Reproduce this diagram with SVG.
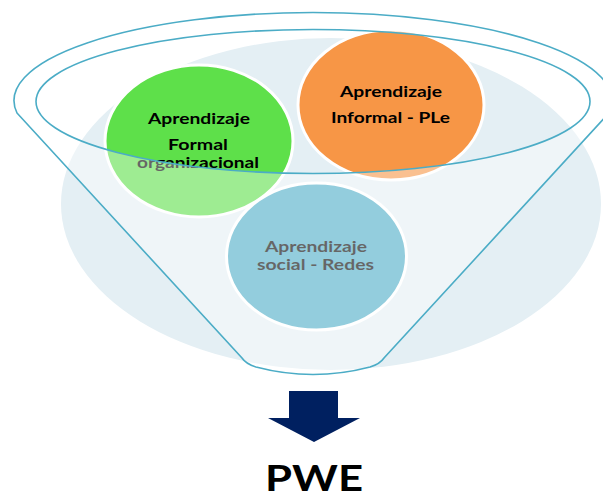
<svg xmlns="http://www.w3.org/2000/svg" width="603" height="499" viewBox="0 0 603 499">
  <style>
    .lbl { font-family: Lato, "Liberation Sans", sans-serif; font-weight: bold; font-size: 15px; fill: #000; text-anchor: middle; }
    .circ { stroke: #ffffff; stroke-width: 3; }
    .rim { fill: none; stroke: #4bacc6; stroke-width: 1.6; }
  </style>
  <rect width="603" height="499" fill="#ffffff"/>
  <g id="background">
    <ellipse cx="331" cy="204" rx="270" ry="166" fill="#e4eff4"/>
  </g>
  <g id="node-formal">
    <ellipse class="circ" cx="199" cy="141" rx="94" ry="76" fill="#5ee04a"/>
    <text class="lbl" x="199" y="124" textLength="102" lengthAdjust="spacingAndGlyphs">Aprendizaje</text>
    <text class="lbl" x="198" y="150" textLength="60" lengthAdjust="spacingAndGlyphs">Formal</text>
    <text class="lbl" x="198" y="168" textLength="122" lengthAdjust="spacingAndGlyphs">organizacional</text>
  </g>
  <g id="node-informal">
    <ellipse class="circ" cx="391" cy="105" rx="93" ry="75" fill="#f79646"/>
    <text class="lbl" x="391" y="97" textLength="102" lengthAdjust="spacingAndGlyphs">Aprendizaje</text>
    <text class="lbl" x="390.5" y="123" textLength="119" lengthAdjust="spacingAndGlyphs">Informal - PLe</text>
  </g>
  <g id="node-social">
    <ellipse class="circ" cx="316.5" cy="256.5" rx="90" ry="73.5" fill="#4bacc6"/>
    <text class="lbl" x="316" y="252" textLength="102" lengthAdjust="spacingAndGlyphs">Aprendizaje</text>
    <text class="lbl" x="315.5" y="270" textLength="117" lengthAdjust="spacingAndGlyphs">social - Redes</text>
  </g>
  <g id="funnel">
    <path fill="#ffffff" fill-opacity="0.4" fill-rule="evenodd" d="M17,113 L242,358 Q246,364 256,367 Q313,382 370,367 Q380,364 384,358 L609,113 A299,88 0 1,0 17,113 Z M36,101.5 A277,72 0 1,0 590,101.5 A277,72 0 1,0 36,101.5 Z"/>
    <path class="rim" d="M17,113 L242,358 Q246,364 256,367 Q313,382 370,367 Q380,364 384,358 L609,113 A299,88 0 1,0 17,113 Z"/>
    <ellipse class="rim" cx="313" cy="101.5" rx="277" ry="72"/>
  </g>
  <g id="connectors">
    <path id="arrow-down" d="M289,391 L338,391 L338,418 L360,418 L314,442 L268,418 L289,418 Z" fill="#002060"/>
  </g>
  <g id="node-pwe">
    <text x="314" y="491" font-family="Lato, 'Liberation Sans', sans-serif" font-weight="bold" font-size="37" text-anchor="middle" fill="#000" textLength="98" lengthAdjust="spacingAndGlyphs">PWE</text>
  </g>
</svg>
